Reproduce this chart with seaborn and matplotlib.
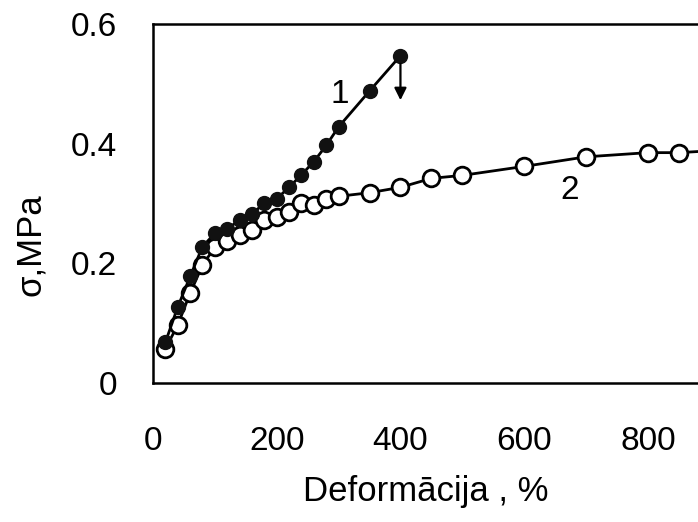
import matplotlib
matplotlib.use("Agg")
import matplotlib.pyplot as plt
import numpy as np
import pandas as pd
import seaborn as sns

# curve 1 (filled dots), ends at break
x1 = [20, 40, 60, 80, 100, 120, 140, 160, 180, 200, 220, 240, 260, 280, 300, 350, 400]
y1 = [0.068, 0.127, 0.178, 0.228, 0.250, 0.258, 0.272, 0.283, 0.300, 0.308,
      0.327, 0.348, 0.370, 0.397, 0.428, 0.488, 0.547]

# curve 2 (open circles)
x2 = [20, 40, 60, 80, 100, 120, 140, 160, 180, 200, 220, 240, 260, 280, 300,
      350, 400, 450, 500, 600, 700, 800, 850, 900]
y2 = [0.057, 0.097, 0.150, 0.197, 0.227, 0.238, 0.247, 0.255, 0.272, 0.278,
      0.285, 0.300, 0.297, 0.308, 0.312, 0.318, 0.327, 0.342, 0.347, 0.362,
      0.378, 0.385, 0.385, 0.388]

xticks = [0, 200, 400, 600, 800]
yticks = [0, 0.2, 0.4, 0.6]
ytick_labels = ["0", "0.2", "0.4", "0.6"]

sns.set_style("white", {'text.color': 'black', 'axes.labelcolor': 'black',
                        'xtick.color': 'black', 'ytick.color': 'black'})
plt.rcParams['font.family'] = ['Liberation Sans', 'DejaVu Sans']

fig = plt.figure(figsize=(6.98, 5.22), dpi=100)
ax = fig.add_axes([153 / 698, 1 - 383 / 522, 1 - 153 / 698, (383 - 24) / 522])

df1 = pd.DataFrame({'x': x1, 'y': y1})
df2 = pd.DataFrame({'x': x2, 'y': y2})

sns.lineplot(data=df2, x='x', y='y', ax=ax, color='black', lw=2.0,
             marker='o', markersize=12, markerfacecolor='white',
             markeredgecolor='black', markeredgewidth=2.0, zorder=2)
sns.lineplot(data=df1, x='x', y='y', ax=ax, color='black', lw=2.0,
             marker='o', markersize=10, markerfacecolor='#111111',
             markeredgecolor='#111111', markeredgewidth=1, zorder=3)

# break arrow at end of curve 1
ax.annotate('', xy=(400, 0.468), xytext=(400, 0.538),
            arrowprops=dict(arrowstyle='-|>', color='black', lw=1.6,
                            mutation_scale=18))
ax.text(302, 0.483, '1', fontsize=24, ha='center', va='center')
ax.text(674, 0.322, '2', fontsize=24, ha='center', va='center')

ax.set_xlim(0, 881)
ax.set_ylim(0, 0.6)
ax.set_xticks(xticks)
ax.set_xticklabels([str(v) for v in xticks])
ax.set_yticks(yticks)
ax.set_yticklabels(ytick_labels)
ax.tick_params(axis='both', direction='in', length=8, width=1.4,
               labelsize=24, color='black', labelcolor='black')
ax.tick_params(axis='y', pad=26)
ax.tick_params(axis='x', pad=31)

for side in ['left', 'bottom', 'top']:
    ax.spines[side].set_linewidth(1.8)
    ax.spines[side].set_color('black')
ax.spines['right'].set_visible(False)

ax.set_xlabel('Deformācija , %', fontsize=25, color='black')
ax.set_ylabel('σ,MPa', fontsize=25, color='black')
ax.xaxis.set_label_coords(0.5, (383 - 491) / 359)
ax.yaxis.set_label_coords((31 - 153) / 545, (383 - 245) / 359)
ax.xaxis.label.set_va('center')
ax.yaxis.label.set_va('center')

fig.savefig('out.png', dpi=100)
